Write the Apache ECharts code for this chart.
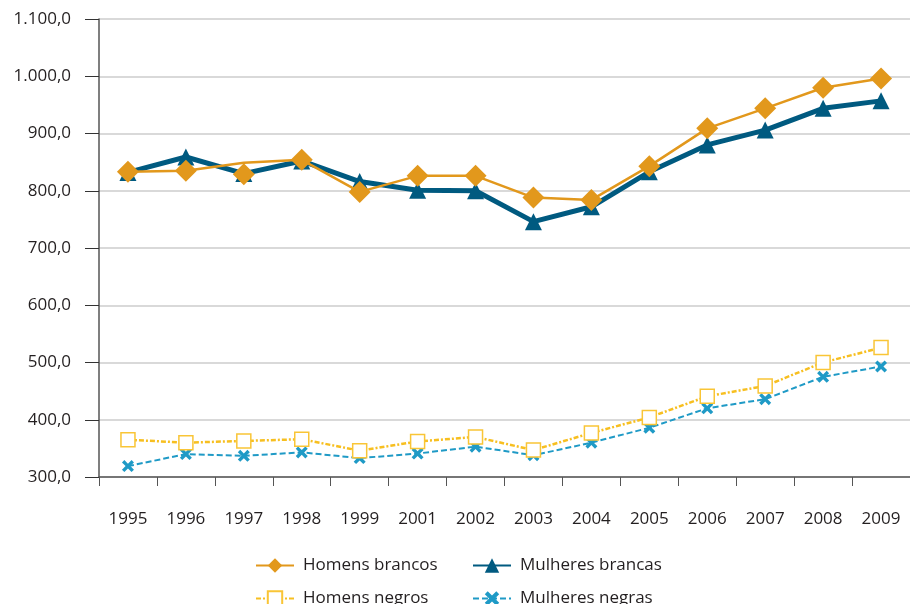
<!DOCTYPE html>
<html>
<head>
<meta charset="utf-8">
<script src="https://cdn.jsdelivr.net/npm/echarts@6/dist/echarts.min.js"></script>
<style>
  html, body { margin: 0; padding: 0; background: #fff; }
  #chart { width: 910px; height: 604px; }
</style>
</head>
<body>
<div id="chart"></div>
<script>
const years = ['1995', '1996', '1997', '1998', '1999', '2001', '2002', '2003', '2004', '2005', '2006', '2007', '2008', '2009']
const homensBrancos = [833, 835, 849, 854, 798, 826, 826, 788, 784, 843, 909, 944, 980, 996]
// no original o losango de 1997 fica abaixo da linha
const homensBrancos1997Marker = 829
const mulheresBrancas = [832, 859, 830, 852, 816, 801, 800, 746, 772, 833, 880, 906, 944, 957]
const homensNegros = [365, 360, 363, 366, 346, 362, 370, 347, 377, 404, 441, 459, 500, 526]
const mulheresNegras = [319, 340, 337, 343, 333, 341, 353, 338, 360, 386, 420, 436, 475, 493]

const cross = 'path://M2,0 L5,3 L8,0 L10,2 L7,5 L10,8 L8,10 L5,7 L2,10 L0,8 L3,5 L0,2 Z'
const font = 'Open Sans'

function fmt(v) {
  const s = v.toFixed(1).replace('.', ',')
  const parts = s.split(',')
  return parts[0].replace(/\B(?=(\d{3})+(?!\d))/g, '.') + ',' + parts[1]
}

const chart = echarts.init(document.getElementById('chart'))

// uma legenda por item, em duas colunas
function legendItem(name, left, top) {
  return {
    left: left, top: top,
    itemWidth: 38, itemHeight: 18,
    textStyle: { fontFamily: font, fontSize: 17, color: '#231f20', padding: [0, 0, 0, 4] },
    data: [name]
  }
}

const option = {
  animation: false,
  grid: { left: 99, right: 0, top: 19, bottom: 127 },
  legend: [
    legendItem('Homens brancos', 250, 552),
    legendItem('Mulheres brancas', 467, 552),
    legendItem('Homens negros', 250, 585),
    legendItem('Mulheres negras', 467, 585)
  ],
  xAxis: {
    type: 'category',
    data: years,
    boundaryGap: true,
    axisLine: { lineStyle: { color: '#555', width: 1.5 } },
    axisTick: { show: true, length: 9, inside: false, lineStyle: { color: '#555' } },
    axisLabel: { margin: 34, fontFamily: font, fontSize: 17, color: '#231f20' }
  },
  yAxis: {
    type: 'value',
    min: 300, max: 1100, interval: 100,
    axisLine: { show: true, lineStyle: { color: '#555', width: 1.5 } },
    axisTick: { show: true, length: 14, lineStyle: { color: '#333' } },
    splitLine: { lineStyle: { color: '#cccccc', width: 1.5 } },
    axisLabel: { margin: 28, fontFamily: font, fontSize: 17, color: '#231f20', formatter: fmt }
  },
  series: [
    {
      name: 'Mulheres brancas',
      type: 'line',
      data: mulheresBrancas,
      symbol: 'triangle', symbolSize: 17,
      lineStyle: { color: '#005a80', width: 5 },
      itemStyle: { color: '#005a80' },
      z: 2
    },
    {
      name: 'Homens brancos',
      type: 'line',
      data: homensBrancos.map((v, i) => i === 2 ? { value: v, symbol: 'none' } : v),
      symbol: 'diamond', symbolSize: 22,
      lineStyle: { color: '#e2981c', width: 2.5 },
      itemStyle: { color: '#e2981c' },
      z: 3
    },
    {
      name: 'Homens brancos',
      type: 'scatter',
      data: [[years[2], homensBrancos1997Marker]],
      symbol: 'diamond', symbolSize: 22,
      itemStyle: { color: '#e2981c', opacity: 1 },
      z: 3
    },
    {
      name: 'Mulheres negras',
      type: 'line',
      data: mulheresNegras,
      symbol: cross, symbolSize: 12,
      lineStyle: { color: '#1f9ac6', width: 2, type: [6, 3] },
      itemStyle: { color: '#1f9ac6' },
      z: 2
    },
    {
      name: 'Homens negros',
      type: 'line',
      data: homensNegros,
      symbol: 'rect', symbolSize: 14, showAllSymbol: true,
      lineStyle: { color: '#f7bf20', width: 2.5, type: [5, 2, 2, 2] },
      itemStyle: { color: '#ffffff', borderColor: '#f9c536', borderWidth: 1.5 },
      z: 3
    }
  ]
}

chart.setOption(option)
</script>
</body>
</html>
